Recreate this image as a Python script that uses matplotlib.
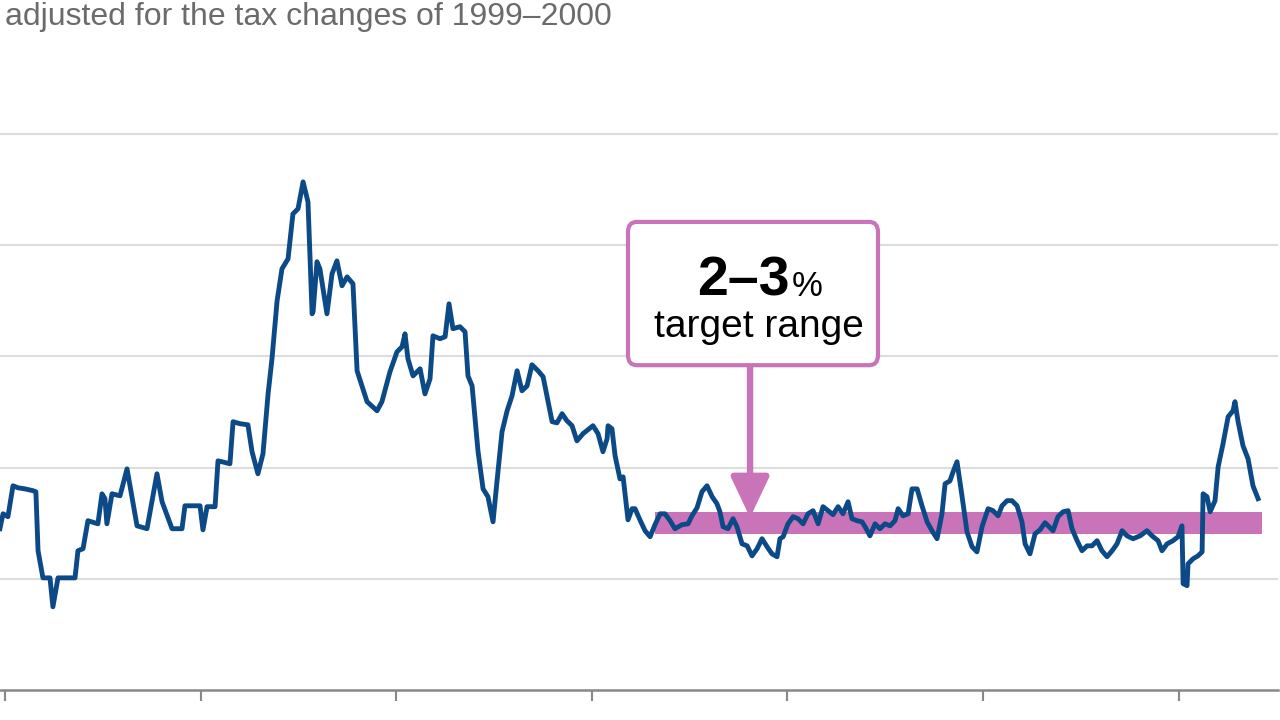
import matplotlib
matplotlib.use("Agg")
import matplotlib.pyplot as plt
from matplotlib.patches import FancyBboxPatch

plt.rcParams['font.family'] = ['Liberation Sans', 'DejaVu Sans']

# annual CPI inflation (%)
years = [
    1959.74, 1959.90, 1960.15, 1960.41, 1960.66, 1961.02, 1961.43, 1961.58, 1961.69, 1961.94,
    1962.30, 1962.45, 1962.71, 1963.58, 1963.73, 1963.99, 1964.24, 1964.75, 1964.96, 1965.11,
    1965.21, 1965.47, 1965.88, 1966.24, 1966.75, 1967.26, 1967.77, 1968.03, 1968.54, 1969.05,
    1969.20, 1969.97, 1970.12, 1970.33, 1970.74, 1970.89, 1971.09, 1971.50, 1971.66, 1972.01,
    1972.42, 1972.63, 1972.93, 1973.19, 1973.45, 1973.65, 1973.91, 1974.16, 1974.47, 1974.72,
    1974.98, 1975.24, 1975.49, 1975.70, 1975.75, 1975.95, 1976.10, 1976.46, 1976.72, 1976.97,
    1977.23, 1977.49, 1977.79, 1978.00, 1978.51, 1979.02, 1979.27, 1979.68, 1980.04, 1980.30,
    1980.45, 1980.60, 1980.86, 1981.22, 1981.47, 1981.73, 1981.88, 1982.24, 1982.50, 1982.70,
    1982.90, 1983.26, 1983.52, 1983.67, 1983.88, 1984.18, 1984.44, 1984.69, 1984.95, 1985.15,
    1985.41, 1985.67, 1985.92, 1986.18, 1986.43, 1986.69, 1986.94, 1987.25, 1987.51, 1987.97,
    1988.22, 1988.48, 1988.73, 1988.99, 1989.24, 1989.55, 1990.06, 1990.32, 1990.57, 1990.78,
    1990.83, 1991.03, 1991.19, 1991.44, 1991.60, 1991.85, 1992.06, 1992.21, 1992.46, 1992.72,
    1992.98, 1993.23, 1993.49, 1993.74, 1994.00, 1994.25, 1994.61, 1994.92, 1995.12, 1995.38,
    1995.63, 1995.89, 1996.15, 1996.40, 1996.55, 1996.71, 1996.96, 1997.22, 1997.42, 1997.68,
    1997.94, 1998.19, 1998.45, 1998.70, 1998.96, 1999.21, 1999.47, 1999.62, 1999.78, 2000.03,
    2000.29, 2000.54, 2000.80, 2001.05, 2001.31, 2001.57, 2001.82, 2002.08, 2002.33, 2002.59,
    2002.84, 2003.10, 2003.30, 2003.56, 2003.81, 2003.97, 2004.22, 2004.48, 2004.73, 2004.99,
    2005.25, 2005.50, 2005.66, 2005.91, 2006.17, 2006.37, 2006.63, 2006.88, 2007.14, 2007.39,
    2007.65, 2007.90, 2008.06, 2008.31, 2008.47, 2008.67, 2008.93, 2009.18, 2009.44, 2009.69,
    2009.95, 2010.26, 2010.51, 2010.77, 2010.97, 2011.23, 2011.48, 2011.74, 2011.99, 2012.15,
    2012.40, 2012.66, 2012.91, 2013.17, 2013.58, 2013.83, 2014.09, 2014.35, 2014.55, 2014.81,
    2015.06, 2015.32, 2015.57, 2015.83, 2016.08, 2016.34, 2016.60, 2016.85, 2017.11, 2017.36,
    2017.67, 2018.03, 2018.38, 2018.64, 2018.95, 2019.15, 2019.41, 2019.71, 2019.97, 2020.17,
    2020.23, 2020.43, 2020.48, 2020.74, 2020.99, 2021.20, 2021.25, 2021.45, 2021.61, 2021.86,
    2022.02, 2022.27, 2022.53, 2022.78, 2022.88, 2023.04, 2023.29, 2023.55, 2023.80, 2024.06,
]
inflation = [
    2.25, 2.92, 2.79, 4.18, 4.09, 4.04, 3.96, 3.91, 1.26, 0.04,
    0.04, -1.26, 0.04, 0.04, 1.26, 1.35, 2.61, 2.47, 3.82, 3.60,
    2.47, 3.82, 3.73, 4.94, 2.38, 2.25, 4.72, 3.46, 2.25, 2.25,
    3.28, 3.28, 2.20, 3.24, 3.24, 5.30, 5.26, 5.17, 7.06, 6.97,
    6.92, 5.71, 4.72, 5.62, 8.31, 9.89, 12.49, 13.93, 14.38, 16.40,
    16.63, 17.84, 16.94, 11.91, 12.00, 14.25, 13.93, 11.91, 13.71, 14.29,
    13.17, 13.57, 13.26, 9.35, 7.96, 7.55, 7.96, 9.30, 10.20, 10.43,
    11.01, 9.89, 9.12, 9.44, 8.31, 8.99, 10.92, 10.79, 10.88, 12.36,
    11.24, 11.33, 11.10, 9.12, 8.67, 5.75, 4.04, 3.69, 2.56, 4.36,
    6.61, 7.55, 8.22, 9.35, 8.45, 8.67, 9.62, 9.35, 9.08, 7.06,
    7.01, 7.42, 7.10, 6.88, 6.20, 6.52, 6.88, 6.52, 5.71, 6.29,
    6.88, 6.74, 5.53, 4.49, 4.58, 2.65, 3.15, 3.15, 2.65, 2.16,
    1.89, 2.43, 2.92, 2.92, 2.61, 2.25, 2.43, 2.47, 2.83, 3.19,
    3.91, 4.18, 3.69, 3.37, 3.01, 2.34, 2.25, 2.70, 2.34, 1.57,
    1.48, 1.03, 1.35, 1.80, 1.44, 1.12, 0.99, 1.80, 1.89, 2.47,
    2.79, 2.70, 2.47, 2.92, 3.06, 2.47, 3.24, 3.06, 2.88, 3.24,
    2.92, 3.46, 2.70, 2.61, 2.56, 2.34, 1.93, 2.47, 2.25, 2.47,
    2.38, 2.61, 3.15, 2.83, 2.92, 4.04, 4.04, 3.28, 2.56, 2.16,
    1.80, 2.92, 4.27, 4.40, 4.81, 5.26, 3.69, 2.11, 1.44, 1.21,
    2.34, 3.15, 3.06, 2.83, 3.28, 3.51, 3.51, 3.28, 2.56, 1.57,
    1.12, 2.02, 2.20, 2.52, 2.16, 2.79, 3.01, 3.06, 2.25, 1.71,
    1.26, 1.48, 1.48, 1.71, 1.26, 0.99, 1.26, 1.57, 2.16, 1.93,
    1.80, 1.93, 2.16, 1.93, 1.71, 1.26, 1.57, 1.71, 1.89, 2.38,
    -0.22, -0.31, 0.67, 0.90, 1.03, 1.21, 3.82, 3.69, 3.01, 3.51,
    5.03, 6.07, 7.28, 7.55, 7.96, 7.06, 5.98, 5.39, 4.18, 3.60,
]

target_low, target_high = 2, 3
target_start, target_end = 1993.25, 2024.25
gridlines = [0, 5, 10, 15, 20]
decades = [1960, 1970, 1980, 1990, 2000, 2010, 2020]

line_color = '#0c4a87'
pink = '#c974b8'

fig = plt.figure(figsize=(12.8, 7.2), dpi=100)
ax = fig.add_axes([0, 30 / 720, 1278 / 1280, 600 / 720])

# target band under the line
ax.fill_between([target_start, target_end], target_low, target_high,
                color=pink, lw=0, zorder=2)
ax.plot(years, inflation, color=line_color, lw=3.5,
        solid_joinstyle='round', zorder=3)

ax.set_xlim(1959.745, 2025.08)
ax.set_ylim(-5, 21.97)
ax.set_yticks(gridlines)
ax.set_xticks(decades)
ax.grid(axis='y', color='#dddddd', lw=1.5, zorder=0)
ax.tick_params(axis='y', length=0, labelleft=False)
ax.tick_params(axis='x', length=8, width=1.5, color='#888888',
               labelbottom=False)
for side in ['left', 'right', 'top']:
    ax.spines[side].set_visible(False)
ax.spines['bottom'].set_color('#888888')
ax.spines['bottom'].set_linewidth(1.8)

# callout box
box = FancyBboxPatch((1991.85, 9.6), 12.78, 6.44,
                     boxstyle='round,pad=0,rounding_size=0.45',
                     fc='white', ec=pink, lw=3, zorder=5)
ax.add_patch(box)
ax.text(2000.13, 12.72, '2–3', ha='right', va='baseline',
        fontsize=40, fontweight='bold', color='black', zorder=6)
ax.text(2000.24, 12.72, '%', ha='left', va='baseline',
        fontsize=25, color='black', zorder=6)
ax.text(1998.55, 10.88, 'target range', ha='center', va='baseline',
        fontsize=28, color='black', zorder=6)
ax.annotate('', xy=(1998.09, 2.75), xytext=(1998.09, 9.6),
            arrowprops=dict(arrowstyle='-|>,head_length=0.95,head_width=0.45',
                            mutation_scale=26, lw=4.6, color=pink,
                            shrinkA=0, shrinkB=0),
            zorder=4)

fig.text(5 / 1280, 1 - 25 / 720, 'adjusted for the tax changes of 1999–2000',
         ha='left', va='baseline', fontsize=23, color='#6b6b6b')

fig.savefig('out.png', dpi=100)
